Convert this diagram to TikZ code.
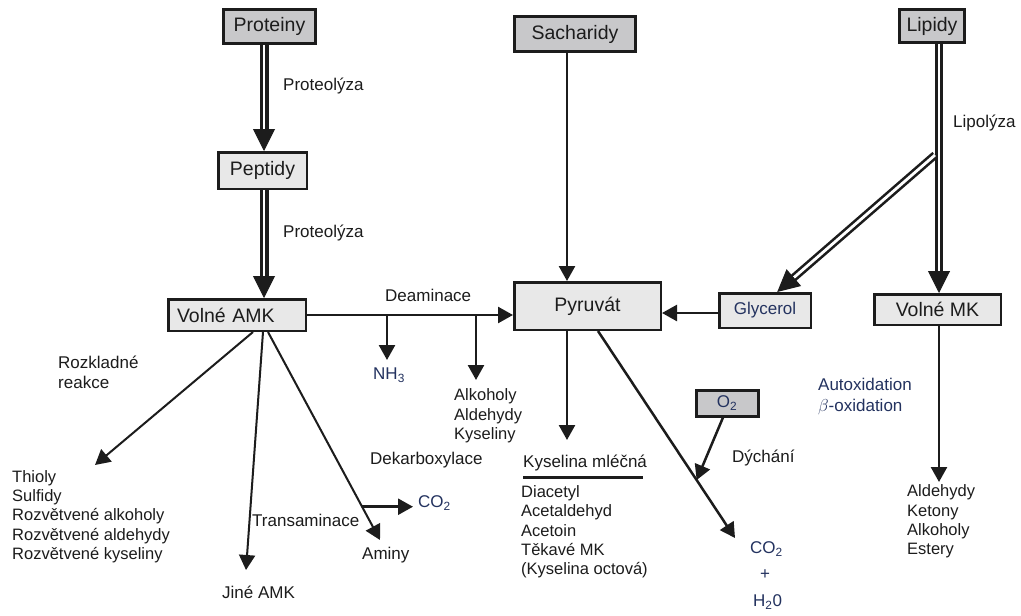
\documentclass[tikz,border=0pt]{standalone}
\usepackage{fontspec}
\setmainfont{Liberation Sans}
\usetikzlibrary{arrows.meta,calc,backgrounds}
\definecolor{navy}{RGB}{35,50,95}
\definecolor{boxdark}{RGB}{200,200,202}
\definecolor{boxlight}{RGB}{232,232,232}
\definecolor{ink}{RGB}{28,28,28}
\begin{document}
\begin{tikzpicture}[x=1pt,y=-1pt,
  darkbox/.style={draw=ink, line width=3pt, fill=boxdark, inner sep=0pt, text=ink, font=\fontsize{19.5}{22}\selectfont},
  lightbox/.style={draw=ink, line width=2.5pt, fill=boxlight, inner sep=0pt, text=ink, font=\fontsize{19.5}{22}\selectfont},
  lbl/.style={anchor=west, inner sep=0pt, font=\fontsize{17}{19}\selectfont, text=ink},
  lst/.style={anchor=west, inner sep=0pt, align=left, font=\fontsize{16.5}{19.3}\selectfont, text=ink},
  navytxt/.style={text=navy},
  arr/.style={draw=ink, line width=2.5pt, -{Triangle[length=15pt,width=16pt]}},
  thinarr/.style={draw=ink, line width=2pt, -{Triangle[length=15pt,width=16pt]}},
  dbl/.style={draw=ink, line width=3.5pt, double=white, double distance=2pt},
  dblthin/.style={draw=ink, line width=2.6pt, double=white, double distance=2.8pt},
  bigtip/.style={draw=ink, line width=1pt, -{Triangle[length=22pt,width=22pt]}},
]
\useasboundingbox (0,0) rectangle (1021,616);

% boxes
\node[darkbox, minimum width=92pt, minimum height=34pt] (prot) at (269.5,26.5) {Proteiny};
\node[lightbox, minimum width=88.5pt, minimum height=36.5pt] (pep) at (262.5,170.5) {Peptidy};
\node[lightbox, minimum width=137.5pt, minimum height=31.5pt, text width=120pt, align=left] (amk) at (237,315) {Volné AMK};
\node[lightbox, minimum width=146.5pt, minimum height=47.5pt] (pyr) at (587.5,306) {Pyruvát};
\node[darkbox, minimum width=121pt, minimum height=35pt] (sach) at (575,34) {Sacharidy};
\node[darkbox, minimum width=65pt, minimum height=33pt] (lip) at (932,26) {Lipidy};
\node[lightbox, minimum width=91.5pt, minimum height=34.5pt, text=navy, font=\fontsize{17}{19}\selectfont] (gly) at (765,310.5) {Glycerol};
\node[lightbox, minimum width=126.5pt, minimum height=30.5pt] (vmk) at (937.5,309.5) {Volné MK};
\node[darkbox, minimum width=62pt, minimum height=26pt, text=navy, font=\fontsize{17}{19}\selectfont] (o2) at (727,403) {O\textsubscript{2}};

% labels
\node[lbl] (pl1) at (283,86) {Proteolýza};
\node[lbl] (pl2) at (283,233) {Proteolýza};
\node[lbl] (lipl) at (953,123) {Lipolýza};
\node[lbl] (deam) at (385,295) {Deaminace};
\node[lbl, navytxt] (nh3) at (373,375) {NH\textsubscript{3}};
\node[lst] (alk) at (454,416) {Alkoholy\\Aldehydy\\Kyseliny};
\node[lbl] (kys) at (523,463) {Kyselina mléčná};
\node[lst] (dia) at (521,532) {Diacetyl\\Acetaldehyd\\Acetoin\\Těkavé MK\\(Kyselina octová)};
\node[lbl] (dek) at (370,460) {Dekarboxylace};
\node[lbl, navytxt] (co2a) at (418,503) {CO\textsubscript{2}};
\node[lbl] (amin) at (362,555) {Aminy};
\node[lbl] (jine) at (222,592) {Jiné AMK};
\node[lbl] (tran) at (252,520) {Transaminace};
\node[lst, font=\fontsize{17}{20}\selectfont] (rozk) at (58,372) {Rozkladné\\reakce};
\node[lst] (thio) at (12,516.5) {Thioly\\Sulfidy\\Rozvětvené alkoholy\\Rozvětvené aldehydy\\Rozvětvené kyseliny};
\node[lst] (ald) at (907,521.5) {Aldehydy\\Ketony\\Alkoholy\\Estery};
\node[lst, navytxt, font=\fontsize{17}{21}\selectfont] (auto) at (818,396.5) {Autoxidation\\$\beta$-oxidation};
\node[lbl] (dych) at (732,458) {Dýchání};
\node[lbl, navytxt] (co2b) at (750,549) {CO\textsubscript{2}};
\node[lbl, navytxt] (plus) at (760,575) {+};
\node[lbl, navytxt] (h2o) at (753,602) {H\textsubscript{2}0};

\draw[ink, line width=3pt] (523,477) -- (643,477);

% arrow end coordinates
\coordinate (t1) at (387,360);
\coordinate (t2) at (476,380);
\coordinate (t3) at (567,440);
\coordinate (t4) at (735,538);
\coordinate (t5) at (939,482);
\coordinate (t6) at (413,507);
\coordinate (r1) at (95,465);
\coordinate (r2) at (246,570);
\coordinate (r3) at (380,540);

\begin{scope}[on background layer]
\fill[white] (0,0) rectangle (1021,616);
% Proteiny -> Peptidy
\coordinate (a1) at ([xshift=-5.5pt]prot.south);
\coordinate (a1e) at (a1 |- pep.north);
\draw[dbl] (a1) -- ($(a1e)!20pt!(a1)$);
\draw[bigtip] ($(a1e)!22pt!(a1)$) -- (a1e);
% Peptidy -> Volne AMK
\coordinate (a2) at ([xshift=1.5pt]pep.south);
\coordinate (a2e) at (a2 |- amk.north);
\draw[dbl] (a2) -- ($(a2e)!20pt!(a2)$);
\draw[bigtip] ($(a2e)!22pt!(a2)$) -- (a2e);
% Lipidy -> Volne MK
\coordinate (a3) at ([xshift=7pt]lip.south);
\coordinate (a3e) at (a3 |- vmk.north);
\draw[dbl, line width=3pt, double distance=2.5pt] (a3) -- ($(a3e)!20pt!(a3)$);
\draw[bigtip] ($(a3e)!22pt!(a3)$) -- (a3e);
% Lipidy branch -> Glycerol
\coordinate (br) at ([xshift=-4pt]a3 |- 0,155);
\coordinate (gtip) at ($(gly.north west)!0.63!(gly.north east)$);
\draw[dblthin] (br) -- ($(gtip)!20pt!(br)$);
\draw[bigtip] ($(gtip)!22pt!(br)$) -- (gtip);

% single arrows
\draw[arr] ([xshift=-8pt]sach.south) -- ([xshift=-8pt]sach.south |- pyr.north);
\draw[arr] (amk.east) -- (amk.east -| pyr.west);
\draw[arr] (amk.east -| t1) -- (t1);
\draw[arr] (amk.east -| t2) -- (t2);
\draw[arr] ([yshift=-2.5pt]gly.west) -- ([yshift=-2.5pt]gly.west -| pyr.east);
\draw[arr] (pyr.south -| t3) -- (t3);
\draw[arr] (pyr.south -| 598,0) -- coordinate[pos=0.72] (meet) (t4);
\draw[arr] ([xshift=-4pt]o2.south) -- (meet);
\draw[arr] (vmk.south -| t5) -- (t5);

% Volne AMK branches
\draw[thinarr] (amk.south -| 253,0) -- (r1);
\draw[thinarr] (amk.south -| 263,0) -- (r2);
\draw[thinarr] (amk.south -| 268,0) -- coordinate[pos=0.84] (dk) (r3);
\draw[arr] (dk) -- (dk -| t6);
\end{scope}
\end{tikzpicture}
\end{document}
